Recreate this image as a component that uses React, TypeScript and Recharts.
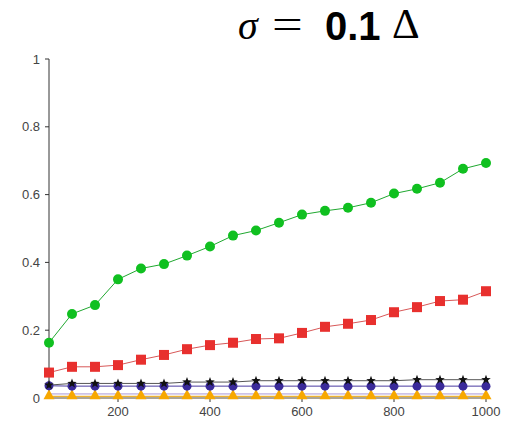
import React from "react";
import { CartesianGrid, Line, LineChart, XAxis, YAxis } from "recharts";

const sizes = [50, 100, 150, 200, 250, 300, 350, 400, 450, 500, 550, 600, 650, 700, 750, 800, 850, 900, 950, 1000];
const greenVals = [0.163, 0.248, 0.274, 0.35, 0.382, 0.395, 0.42, 0.447, 0.479, 0.494, 0.517, 0.541, 0.552, 0.561, 0.576, 0.603, 0.617, 0.635, 0.676, 0.693];
const redVals = [0.075, 0.092, 0.092, 0.097, 0.113, 0.127, 0.144, 0.156, 0.163, 0.174, 0.176, 0.192, 0.21, 0.219, 0.23, 0.253, 0.268, 0.286, 0.29, 0.315];
const starVals = [0.038, 0.043, 0.043, 0.043, 0.043, 0.043, 0.047, 0.047, 0.047, 0.051, 0.051, 0.051, 0.051, 0.051, 0.051, 0.051, 0.054, 0.054, 0.054, 0.054];
const blueVals = [0.036, 0.035, 0.035, 0.035, 0.035, 0.035, 0.035, 0.035, 0.035, 0.035, 0.035, 0.035, 0.035, 0.035, 0.035, 0.035, 0.035, 0.035, 0.035, 0.035];
const lilacVals = [0.012, 0.012, 0.012, 0.012, 0.012, 0.012, 0.012, 0.012, 0.012, 0.012, 0.012, 0.012, 0.012, 0.012, 0.012, 0.012, 0.012, 0.012, 0.012, 0.012];
const orangeVals = [0.005, 0.005, 0.005, 0.005, 0.005, 0.005, 0.005, 0.005, 0.005, 0.005, 0.005, 0.005, 0.005, 0.005, 0.005, 0.005, 0.005, 0.005, 0.005, 0.005];
const yTicks = [0, 0.2, 0.4, 0.6, 0.8, 1];
const xTicks = [200, 400, 600, 800, 1000];

const rows = sizes.map((n, i) => ({
  n,
  green: greenVals[i],
  red: redVals[i],
  star: starVals[i],
  blue: blueVals[i],
  lilac: lilacVals[i],
  orange: orangeVals[i],
}));

const tickStyle = { fill: "#444", fontSize: 13, fontFamily: "Liberation Sans, Arial, sans-serif" };

function square(props: any) {
  const { cx, cy, index } = props;
  return <rect key={`sq-${index}`} x={cx - 5} y={cy - 5} width={10} height={10} fill="#e8302e" />;
}

function triangle(props: any) {
  const { cx, cy, index } = props;
  return <polygon key={`tri-${index}`} points={`${cx},${cy - 7} ${cx + 5.5},${cy + 3} ${cx - 5.5},${cy + 3}`} fill="#f7a800" />;
}

function star(props: any) {
  const { cx, cy, index } = props;
  const pts: string[] = [];
  for (let k = 0; k < 10; k++) {
    const r = k % 2 === 0 ? 5 : 2.1;
    const a = -Math.PI / 2 + (k * Math.PI) / 5;
    pts.push(`${cx + r * Math.cos(a)},${cy + r * Math.sin(a)}`);
  }
  return <polygon key={`st-${index}`} points={pts.join(" ")} fill="#111" />;
}

// title pieces placed on a shared baseline (line box = 0.8em)
const BASE = 39.5;
function piece(left: number, size: number, family: string, extra: React.CSSProperties = {}): React.CSSProperties {
  return {
    position: "absolute",
    left,
    top: BASE - 0.7465 * size,
    fontSize: size,
    lineHeight: `${0.8 * size}px`,
    fontFamily: family,
    whiteSpace: "nowrap",
    color: "#000",
    ...extra,
  };
}

export default function App() {
  return (
    <div style={{ position: "absolute", left: 0, top: 0, width: 508, height: 424, background: "#fff" }}>
      <span style={piece(238, 40, "Liberation Serif, serif", { fontStyle: "italic" })}>σ</span>
      <span style={piece(272, 42, "Liberation Serif, serif", { display: "inline-block", transform: "scaleX(1.3)", transformOrigin: "left center" })}>=</span>
      <span style={piece(325, 40, "Liberation Sans, Arial, sans-serif", { fontWeight: 700 })}>0.1</span>
      <span style={piece(392, 43, "Liberation Serif, serif")}>Δ</span>
      <div style={{ position: "absolute", left: 0, top: 0 }}>
        <LineChart width={508} height={424} data={rows} margin={{ top: 59, right: 22, bottom: 6, left: 0 }}>
          <CartesianGrid horizontal={false} vertical={false} />
          <XAxis
            dataKey="n"
            type="number"
            domain={[50, 1000]}
            ticks={xTicks}
            tick={tickStyle}
            tickSize={4}
            tickMargin={5}
            height={20}
            axisLine={{ stroke: "#5a4a2a" }}
            tickLine={{ stroke: "#333" }}
          />
          <YAxis
            type="number"
            domain={[0, 1]}
            ticks={yTicks}
            tick={tickStyle}
            tickSize={4}
            tickMargin={5}
            width={49}
            axisLine={{ stroke: "#333" }}
            tickLine={{ stroke: "#333" }}
          />
          <Line dataKey="orange" stroke="#e8a000" strokeWidth={1} dot={triangle} isAnimationActive={false} />
          <Line dataKey="lilac" stroke="#a898d8" strokeWidth={1} dot={false} isAnimationActive={false} />
          <Line dataKey="blue" stroke="#4a3aa0" strokeWidth={1} dot={{ r: 4.5, fill: "#3a2a9a", stroke: "none" }} isAnimationActive={false} />
          <Line dataKey="star" stroke="#555" strokeWidth={1} dot={star} isAnimationActive={false} />
          <Line dataKey="red" stroke="#d85858" strokeWidth={1} dot={square} isAnimationActive={false} />
          <Line dataKey="green" stroke="#20a830" strokeWidth={1} dot={{ r: 5, fill: "#10c020", stroke: "none" }} isAnimationActive={false} />
        </LineChart>
      </div>
    </div>
  );
}
